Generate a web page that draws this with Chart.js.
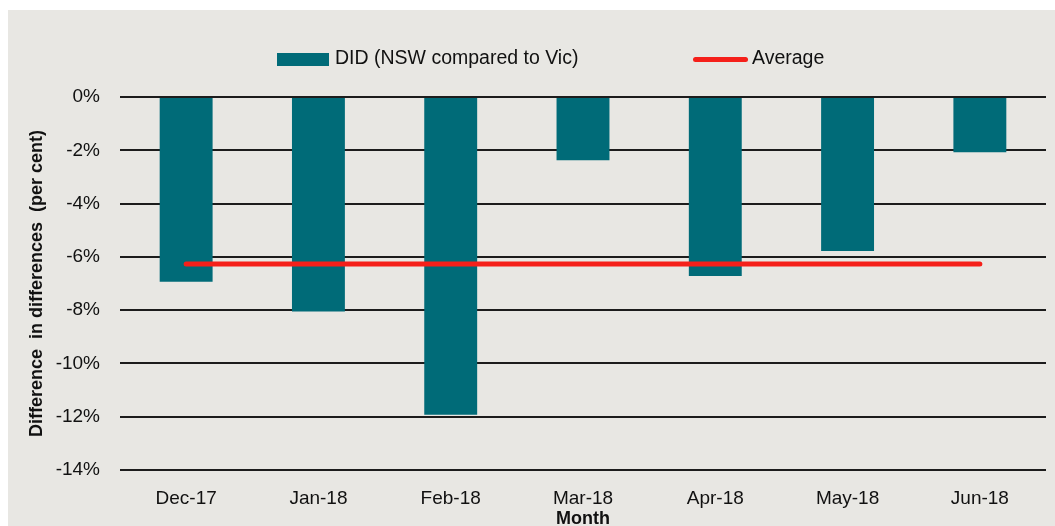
<!DOCTYPE html>
<html>
<head>
<meta charset="utf-8">
<script src="https://cdn.jsdelivr.net/npm/chart.js@4.4.1/dist/chart.umd.min.js"></script>
<style>
    body { margin: 0; background: #fff; width: 1055px; height: 526px; overflow: hidden; font-family: "Liberation Sans", Arial, sans-serif; }
    .frame { position: absolute; left: 8px; top: 10px; width: 1047px; height: 520px; background: #e8e7e3; }
    .legend { position: absolute; top: 36px; left: 0; height: 26px; font-size: 19.5px; color: #111; }
    .legend span { position: absolute; white-space: nowrap; }
    .swatch-bar { position: absolute; width: 52px; height: 13px; background: #006b78; top: 7px; }
    .swatch-line { position: absolute; width: 55px; height: 5px; border-radius: 3px; background: #f5201a; top: 11px; }
</style>
</head>
<body>
<div class="frame">
    <canvas id="chart" width="1047" height="520"></canvas>
    <div class="legend">
        <div class="swatch-bar" style="left:269px"></div>
        <span style="left:327px;top:0px">DID (NSW compared to Vic)</span>
        <div class="swatch-line" style="left:685px"></div>
        <span style="left:744px;top:0px">Average</span>
    </div>
</div>
<script>
const months = ['Dec-17', 'Jan-18', 'Feb-18', 'Mar-18', 'Apr-18', 'May-18', 'Jun-18'];
const didValues = [-6.93, -8.05, -11.93, -2.37, -6.72, -5.78, -2.07];
const averageValues = [-6.27, -6.27, -6.27, -6.27, -6.27, -6.27, -6.27];

const tickFont = { family: '"Liberation Sans", Arial, sans-serif', size: 19 };
const titleFont = { family: '"Liberation Sans", Arial, sans-serif', size: 18, weight: 'bold' };

new Chart(document.getElementById('chart'), {
    data: {
        labels: months,
        datasets: [
            {
                type: 'line',
                label: 'Average',
                data: averageValues,
                borderColor: '#f5201a',
                borderWidth: 5,
                borderCapStyle: 'round',
                pointRadius: 0,
                order: 0
            },
            {
                type: 'bar',
                label: 'DID (NSW compared to Vic)',
                data: didValues,
                backgroundColor: '#006b78',
                categoryPercentage: 1,
                barPercentage: 0.4,
                order: 1
            }
        ]
    },
    options: {
        responsive: false,
        animation: false,
        layout: { padding: { top: 87, right: 9, left: 0, bottom: 0 } },
        plugins: { legend: { display: false }, tooltip: { enabled: false } },
        scales: {
            x: {
                afterFit: scale => { scale.height = 60; },
                grid: { display: false },
                border: { display: false },
                ticks: { font: tickFont, color: '#111', padding: 9, maxRotation: 0 },
                title: { display: true, text: 'Month', font: titleFont, color: '#111', padding: { top: 0, bottom: 0 } }
            },
            y: {
                min: -14,
                max: 0,
                afterFit: scale => { scale.width = 112; },
                grid: { color: '#1c1c1c', lineWidth: 2, drawTicks: false },
                border: { display: false },
                ticks: {
                    stepSize: 2,
                    font: tickFont,
                    color: '#111',
                    padding: 20,
                    callback: v => v + '%'
                },
                title: {
                    display: true,
                    text: 'Difference  in differences  (per cent)',
                    font: titleFont,
                    color: '#111',
                    padding: { top: 18, bottom: 0 }
                }
            }
        }
    }
});
</script>
</body>
</html>
